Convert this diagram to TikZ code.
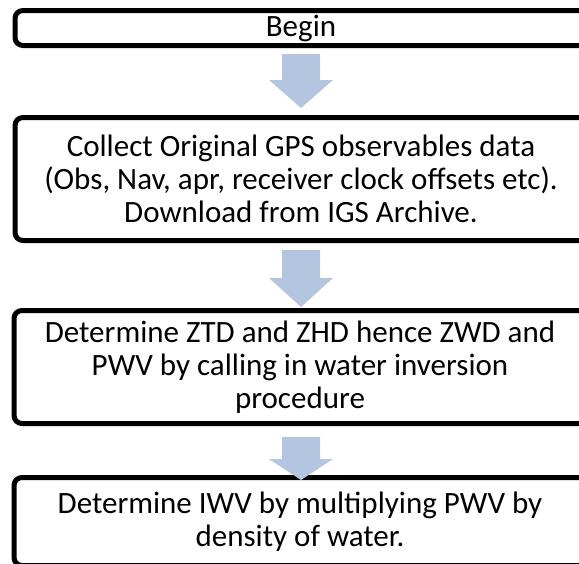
\documentclass[tikz,border=0pt]{standalone}
\usepackage{fontspec}
\setmainfont{Carlito}
\usetikzlibrary{calc}
\definecolor{arrowblue}{RGB}{180,197,223}
\tikzset{
  stepbox/.style={draw=black, line width=5pt, rounded corners=8pt, fill=white,
    minimum width=572pt, align=center, inner sep=0pt,
    font=\fontsize{31}{33}\selectfont},
  flowarrow/.style={fill=arrowblue, draw=none}
}
% block arrow: #1 = top of shaft, #2 = start of head, #3 = tip (all y, downward)
\newcommand\downblock[3]{%
  \fill[flowarrow] (282,-#1) -- (320,-#1) -- (320,-#2) -- (333,-#2) -- (301,-#3)
    -- (269,-#2) -- (282,-#2) -- cycle;}
\begin{document}
\begin{tikzpicture}[x=1pt,y=1pt]
  \useasboundingbox (0,0) rectangle (579,-563);
  \clip (0,0) rectangle (579,-563);
  \fill[white] (0,0) rectangle (579,-563);

  \node[stepbox, minimum height=35pt] (begin) at (301,-28) {Begin};
  \node[stepbox, minimum height=123pt] (collect) at (301,-179)
    {Collect Original GPS observables data\\(Obs, Nav, apr, receiver clock offsets etc).\\Download from IGS Archive.};
  \node[stepbox, minimum height=113pt] (ztd) at (300,-367)
    {Determine ZTD and ZHD hence ZWD and\\PWV by calling in water inversion\\procedure};
  \node[stepbox, minimum height=88pt] (iwv) at (300,-521.5)
    {Determine IWV by multiplying PWV by\\density of water.};

  \downblock{54}{80}{108}
  \downblock{250}{278}{307}
  \downblock{437}{459}{480}
\end{tikzpicture}
\end{document}
